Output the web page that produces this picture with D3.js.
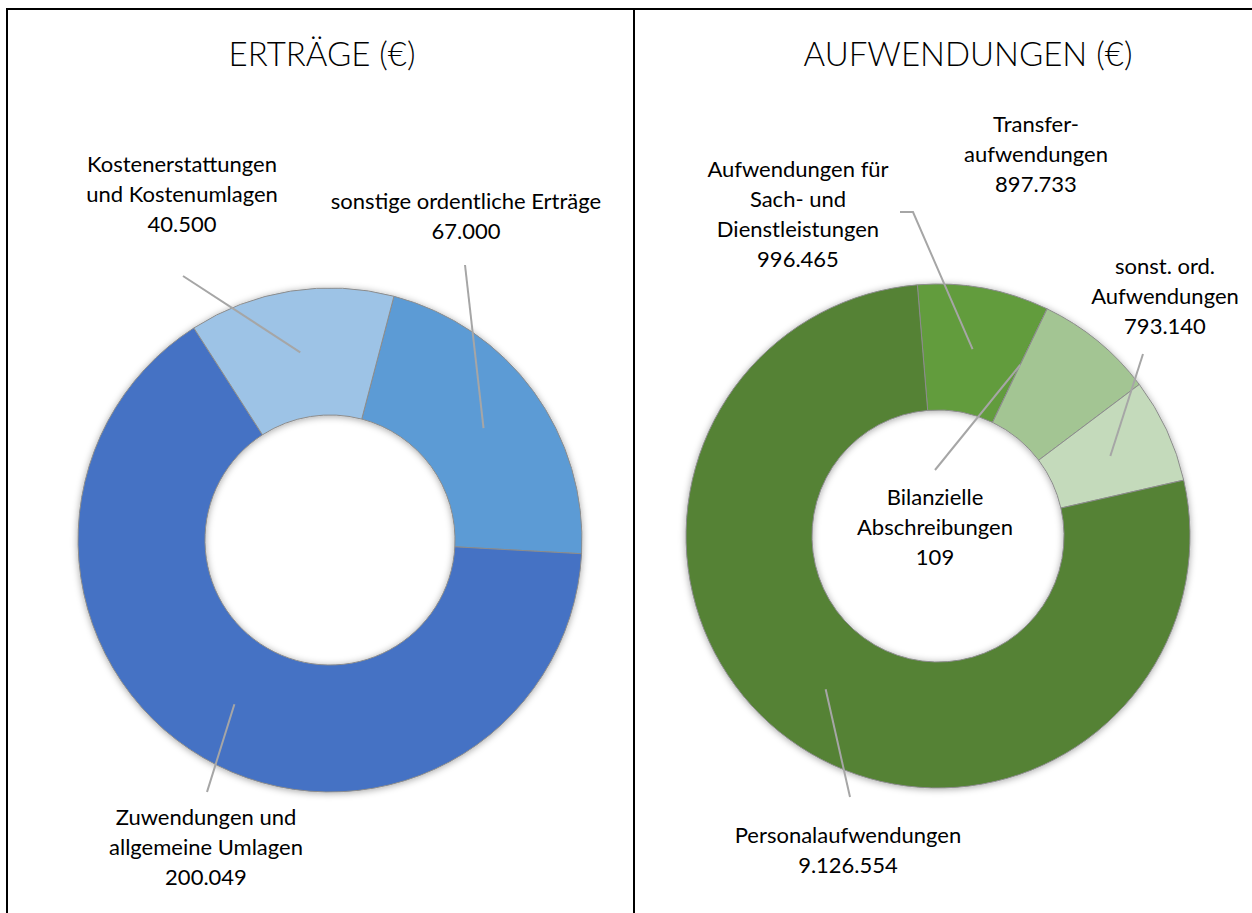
<!DOCTYPE html>
<html>
<head>
<meta charset="utf-8">
<script src="https://cdn.jsdelivr.net/npm/d3@7"></script>
<style>
  body { margin: 0; background: #fff; }
  text { font-family: Lato, "Open Sans", sans-serif; fill: #000; }
</style>
</head>
<body>
<svg id="chart" width="1252" height="913"></svg>
<script>
// ---- data: Erträge ----
const ertragKategorien = ["sonstige ordentliche Erträge", "Zuwendungen und allgemeine Umlagen", "Kostenerstattungen und Kostenumlagen"];
const ertragZeilen = [["sonstige ordentliche Erträge"], ["Zuwendungen und", "allgemeine Umlagen"], ["Kostenerstattungen", "und Kostenumlagen"]];
const ertragWerte = [67000, 200049, 40500];

// ---- data: Aufwendungen ----
const aufwandKategorien = ["Aufwendungen für Sach- und Dienstleistungen", "Bilanzielle Abschreibungen", "Transferaufwendungen", "sonst. ord. Aufwendungen", "Personalaufwendungen"];
const aufwandZeilen = [["Aufwendungen für", "Sach- und", "Dienstleistungen"], ["Bilanzielle", "Abschreibungen"], ["Transfer-", "aufwendungen"], ["sonst. ord.", "Aufwendungen"], ["Personalaufwendungen"]];
const aufwandWerte = [996465, 109, 897733, 793140, 9126554];

// ---- styling / layout ----
const ertragFarben = ["#5b9bd5", "#4472c4", "#9dc3e6"];
const aufwandFarben = ["#629c3e", "#548235", "#a3c593", "#c4dabb", "#548235"];

// label anchor (x, first baseline) and leader start points
const ertragLayout = [
  {x: 466, y: 209, leader: [[465, 265]]},
  {x: 206, y: 825, leader: [[207, 792]]},
  {x: 182, y: 172, leader: [[183, 276]]}
];
const aufwandLayout = [
  {x: 798, y: 177, leader: [[900, 212], [913, 212]]},
  {x: 935, y: 505, leader: [[935, 470]]},
  {x: 1036, y: 132, leader: null},
  {x: 1165, y: 274, leader: [[1143, 354]]},
  {x: 848, y: 843, leader: [[850, 797]]}
];

const de = d3.formatLocale({decimal: ",", thousands: ".", grouping: [3], currency: ["", " €"]});
const fmt = de.format(",d");

const svg = d3.select("#chart");

const defs = svg.append("defs");
const shadow = defs.append("filter").attr("id", "shadow")
  .attr("x", "-20%").attr("y", "-20%").attr("width", "140%").attr("height", "140%");
shadow.append("feDropShadow")
  .attr("dx", 0).attr("dy", 1).attr("stdDeviation", 3.5)
  .attr("flood-color", "#000").attr("flood-opacity", 0.35);

// frame
svg.append("g").attr("stroke", "#000").attr("stroke-width", 2)
  .selectAll("line")
  .data([[6, 9, 1252, 9], [7, 8, 7, 913], [634, 8, 634, 913]])
  .join("line")
  .attr("x1", d => d[0]).attr("y1", d => d[1])
  .attr("x2", d => d[2]).attr("y2", d => d[3]);

function donut(opts) {
  const g = svg.append("g").attr("transform", `translate(${opts.cx},${opts.cy})`);

  const pie = d3.pie().sort(null).value(d => d)
    .startAngle(opts.start * Math.PI / 180)
    .endAngle(opts.start * Math.PI / 180 + 2 * Math.PI);
  const arcs = pie(opts.values);

  const arc = d3.arc().innerRadius(opts.inner).outerRadius(opts.outer);
  const mid = d3.arc().innerRadius(190).outerRadius(190);

  g.append("g").attr("filter", "url(#shadow)")
    .selectAll("path")
    .data(arcs)
    .join("path")
    .attr("d", arc)
    .attr("fill", (d, i) => opts.colors[i])
    .attr("stroke", "#8c8c8c")
    .attr("stroke-width", 1);

  // leader lines
  svg.append("g")
    .selectAll("polyline")
    .data(arcs.filter((d, i) => opts.layout[i].leader))
    .join("polyline")
    .attr("fill", "none")
    .attr("stroke", "#a6a6a6")
    .attr("stroke-width", 2)
    .attr("points", d => {
      const c = mid.centroid(d);
      const pts = opts.layout[d.index].leader.concat([[c[0] + opts.cx, c[1] + opts.cy]]);
      return pts.map(p => p.join(",")).join(" ");
    });

  // labels
  const lab = svg.append("g").attr("font-size", 22).attr("text-anchor", "middle");
  arcs.forEach((d, i) => {
    const L = opts.layout[i];
    const lines = opts.lines[i].concat([fmt(d.data)]);
    const t = lab.append("text").attr("x", L.x).attr("y", L.y);
    lines.forEach((s, k) => {
      t.append("tspan").attr("x", L.x).attr("dy", k === 0 ? 0 : 30).text(s);
    });
  });

  svg.append("text")
    .attr("x", opts.titleX).attr("y", 66)
    .attr("text-anchor", "middle")
    .attr("font-size", 33)
    .attr("font-weight", 300)
    .text(opts.title);
}

donut({
  cx: 330, cy: 540, outer: 252, inner: 125, start: 14.7,
  values: ertragWerte, colors: ertragFarben, lines: ertragZeilen, layout: ertragLayout,
  title: "ERTRÄGE (€)", titleX: 322
});

donut({
  cx: 938, cy: 536, outer: 252, inner: 126, start: -4.7,
  values: aufwandWerte, colors: aufwandFarben, lines: aufwandZeilen, layout: aufwandLayout,
  title: "AUFWENDUNGEN (€)", titleX: 968
});
</script>
</body>
</html>
